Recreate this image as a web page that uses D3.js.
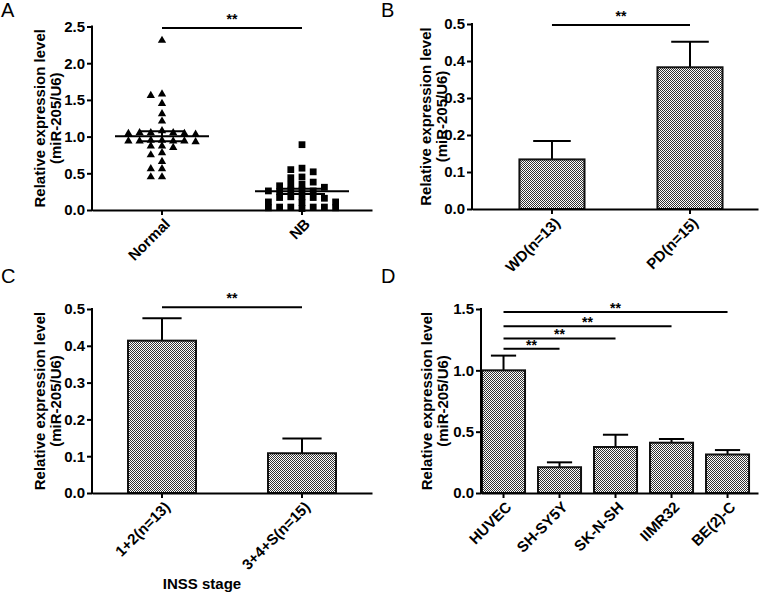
<!DOCTYPE html>
<html>
<head>
<meta charset="utf-8">
<script src="https://cdn.jsdelivr.net/npm/d3@7"></script>
<style>
  body { margin: 0; background: #fff; }
  svg text { font-family: Arial, "Liberation Sans", sans-serif; }
</style>
</head>
<body>
<div class="output"></div>
<script>
// ---- data ----
// A: individual samples
const groupsA = ["Normal", "NB"];
const normalVals = [2.31, 1.58, 1.56, 1.45, 1.31, 1.21, 1.08,
  1.05, 1.05, 1.04, 1.04, 1.03, 1.05,
  0.94, 0.94, 0.95, 0.93, 0.94, 0.95, 0.94,
  0.87, 0.85, 0.87, 0.78, 0.75, 0.66, 0.56, 0.56, 0.45, 0.45];
const nbVals = [0.89, 0.55, 0.52, 0.57, 0.45, 0.44,
  0.38, 0.35, 0.35, 0.33, 0.31,
  0.27, 0.26, 0.26, 0.25, 0.27,
  0.18, 0.17, 0.18, 0.17, 0.16,
  0.11, 0.10, 0.11,
  0.04, 0.04, 0.03, 0.02, 0.03, 0.04, 0.04];
const ticksA = [0, 0.5, 1.0, 1.5, 2.0, 2.5];

// B
const groupsB = ["WD(n=13)", "PD(n=15)"];
const meanB = [0.134, 0.383];
const semB = [0.050, 0.069];
const ticksB = [0, 0.1, 0.2, 0.3, 0.4, 0.5];

// C
const groupsC = ["1+2(n=13)", "3+4+S(n=15)"];
const meanC = [0.414, 0.108];
const semC = [0.061, 0.040];
const ticksC = [0, 0.1, 0.2, 0.3, 0.4, 0.5];

// D
const groupsD = ["HUVEC", "SH-SY5Y", "SK-N-SH", "IIMR32", "BE(2)-C"];
const meanD = [1.0, 0.21, 0.375, 0.41, 0.314];
const semD = [0.12, 0.04, 0.10, 0.03, 0.036];
const ticksD = [0, 0.5, 1.0, 1.5];
// significance brackets in D: [from, to, height]
const sigD = [["HUVEC", "SH-SY5Y", 1.175], ["HUVEC", "SK-N-SH", 1.26],
  ["HUVEC", "IIMR32", 1.36], ["HUVEC", "BE(2)-C", 1.475]];

const yTitle1 = "Relative expression level";
const yTitle2 = "(miR-205/U6)";

// ---- drawing ----
const svg = d3.select(".output").append("svg")
  .attr("width", 759).attr("height", 592);

const pat = svg.append("defs").append("pattern")
  .attr("id", "checker").attr("width", 2).attr("height", 2)
  .attr("patternUnits", "userSpaceOnUse");
pat.append("rect").attr("width", 2).attr("height", 2).attr("fill", "#fff");
pat.append("rect").attr("width", 1).attr("height", 1).attr("fill", "#333");
pat.append("rect").attr("x", 1).attr("y", 1).attr("width", 1).attr("height", 1).attr("fill", "#333");

function panelLetter(txt, x, y) {
  svg.append("text").text(txt).attr("x", x).attr("y", y)
    .style("font-size", "20px").attr("fill", "#000");
}

function axes(p, x, y, ticks, fmt) {
  let ya = svg.append("g")
    .attr("transform", "translate(" + p.left + ",0)")
    .call(d3.axisLeft(y).tickValues(ticks).tickFormat(fmt).tickSize(5).tickSizeOuter(0).tickPadding(2));
  let xa = svg.append("g")
    .attr("transform", "translate(0," + p.bottom + ")")
    .call(d3.axisBottom(x).tickSize(5).tickSizeOuter(0).tickFormat(""));
  [ya, xa].forEach(a => {
    a.selectAll("path, line").attr("stroke", "#000").attr("stroke-width", 2);
    a.selectAll("text").attr("fill", "#000")
      .style("font-size", "15px").style("font-weight", "bold");
  });
  ya.select(".domain").attr("d", "M0," + (p.bottom + 1) + "V" + (p.top - 1));

  // category labels, rotated
  svg.append("g").selectAll("text")
    .data(x.domain())
    .enter().append("text")
    .attr("transform", d => "translate(" + (x(d) + x.bandwidth() / 2 + 9) + "," + (p.bottom + 15) + ") rotate(-45)")
    .attr("text-anchor", "end")
    .style("font-size", "15px").style("font-weight", "bold")
    .text(d => d);

  // y title, two lines
  let cy = (p.top + p.bottom) / 2;
  [yTitle1, yTitle2].forEach((t, i) => {
    svg.append("text")
      .attr("transform", "translate(" + (p.left + p.titleDx + i * 15.5) + "," + cy + ") rotate(-90)")
      .attr("text-anchor", "middle")
      .style("font-size", "15px").style("font-weight", "bold")
      .text(t);
  });
}

function sigBar(x, y, a, b, v, textDy) {
  let x1 = x(a) + x.bandwidth() / 2;
  let x2 = x(b) + x.bandwidth() / 2;
  svg.append("line")
    .attr("x1", x1).attr("x2", x2).attr("y1", y(v)).attr("y2", y(v))
    .attr("stroke", "#000").attr("stroke-width", 2);
  svg.append("text")
    .attr("x", (x1 + x2) / 2).attr("y", y(v) + textDy)
    .attr("text-anchor", "middle")
    .style("font-size", "14px").style("font-weight", "bold")
    .text("**");
}

function barPanel(p, groups, means, sems, ticks, fmt) {
  let x = d3.scaleBand().domain(groups).range([p.left, p.right])
    .paddingInner(p.pi).paddingOuter(p.po).align(p.align);
  let y = d3.scaleLinear().domain([0, ticks[ticks.length - 1]]).range([p.bottom, p.top]);
  let data = groups.map((g, i) => ({ g: g, m: means[i], s: sems[i] }));

  // error bars (upper only)
  let eb = svg.append("g").attr("stroke", "#000").attr("stroke-width", 2);
  eb.selectAll(".stem").data(data).enter().append("line")
    .attr("x1", d => x(d.g) + x.bandwidth() / 2)
    .attr("x2", d => x(d.g) + x.bandwidth() / 2)
    .attr("y1", d => y(d.m)).attr("y2", d => y(d.m + d.s));
  eb.selectAll(".cap").data(data).enter().append("line")
    .attr("x1", d => x(d.g) + x.bandwidth() * 0.22)
    .attr("x2", d => x(d.g) + x.bandwidth() * 0.78)
    .attr("y1", d => y(d.m + d.s)).attr("y2", d => y(d.m + d.s));

  svg.append("g").selectAll("rect").data(data).enter().append("rect")
    .attr("x", d => x(d.g) + 1)
    .attr("y", d => y(d.m))
    .attr("width", x.bandwidth() - 2)
    .attr("height", d => y(0) - y(d.m))
    .attr("fill", "url(#checker)")
    .attr("stroke", "#111").attr("stroke-width", 2);

  axes(p, x, y, ticks, fmt);
  return { x, y };
}

// ---- panel A ----
(function () {
  let p = { left: 92, right: 372, top: 26.5, bottom: 210, titleDx: -47 };
  let x = d3.scaleBand().domain(groupsA).range([p.left, p.right]).padding(0);
  let y = d3.scaleLinear().domain([0, 2.5]).range([p.bottom, p.top]);

  // simple beeswarm: spread overlapping points sideways
  function swarm(vals, cx) {
    let placed = [];
    let order = vals.slice().sort((a, b) => b - a);
    order.forEach(v => {
      let py = y(v);
      for (let k = 0; k < 40; k++) {
        let off = (k % 2 === 0 ? 1 : -1) * Math.ceil(k / 2) * 5.6;
        let px = cx + off;
        if (!placed.some(q => Math.abs(q.x - px) < 10.5 && Math.abs(q.y - py) < 5.5)) {
          placed.push({ x: px, y: py, v: v });
          break;
        }
      }
    });
    return placed;
  }

  let sets = [
    { g: "Normal", vals: normalVals, sym: d3.symbolTriangle, size: 30 },
    { g: "NB", vals: nbVals, sym: d3.symbolSquare, size: 46 }
  ];

  sets.forEach(s => {
    let cx = x(s.g) + x.bandwidth() / 2;
    let pts = swarm(s.vals, cx);
    svg.append("g").selectAll("path").data(pts).enter().append("path")
      .attr("d", d3.symbol().type(s.sym).size(s.size))
      .attr("transform", d => "translate(" + d.x + "," + d.y + ")")
      .attr("fill", "#000");

    let mean = d3.mean(s.vals);
    let sem = d3.deviation(s.vals) / Math.sqrt(s.vals.length);
    let g = svg.append("g").attr("stroke", "#000").attr("stroke-width", 2);
    g.append("line").attr("x1", cx - 47).attr("x2", cx + 47).attr("y1", y(mean)).attr("y2", y(mean));
    g.append("line").attr("x1", cx).attr("x2", cx).attr("y1", y(mean - sem)).attr("y2", y(mean + sem));
    [mean - sem, mean + sem].forEach(v => {
      g.append("line").attr("x1", cx - 23).attr("x2", cx + 23).attr("y1", y(v)).attr("y2", y(v));
    });
  });

  axes(p, x, y, ticksA, d3.format(".1f"));
  sigBar(x, y, "Normal", "NB", 2.48, -4);
})();

// ---- panel B ----
(function () {
  let p = { left: 472, right: 758, top: 24, bottom: 209, titleDx: -41, pi: 0.514, po: 0.293, align: 0.574 };
  let s = barPanel(p, groupsB, meanB, semB, ticksB, d3.format(".1f"));
  sigBar(s.x, s.y, groupsB[0], groupsB[1], 0.497, -4);
})();

// ---- panel C ----
(function () {
  let p = { left: 92, right: 372, top: 309, bottom: 493, titleDx: -47, pi: 0.5, po: 0.25, align: 0.5 };
  let s = barPanel(p, groupsC, meanC, semC, ticksC, d3.format(".1f"));
  sigBar(s.x, s.y, groupsC[0], groupsC[1], 0.505, -4);
  svg.append("text").attr("x", 202).attr("y", 589)
    .attr("text-anchor", "middle")
    .style("font-size", "15px").style("font-weight", "bold")
    .text("INSS stage");
})();

// ---- panel D ----
(function () {
  let p = { left: 481, right: 758, top: 309, bottom: 493, titleDx: -49, pi: 0.196, po: 0.071, align: 0 };
  let s = barPanel(p, groupsD, meanD, semD, ticksD, d3.format(".1f"));
  sigD.forEach(d => sigBar(s.x, s.y, d[0], d[1], d[2], 1));
})();

panelLetter("A", 1, 17);
panelLetter("B", 381, 17);
panelLetter("C", 1, 283);
panelLetter("D", 381, 283);
</script>
</body>
</html>
